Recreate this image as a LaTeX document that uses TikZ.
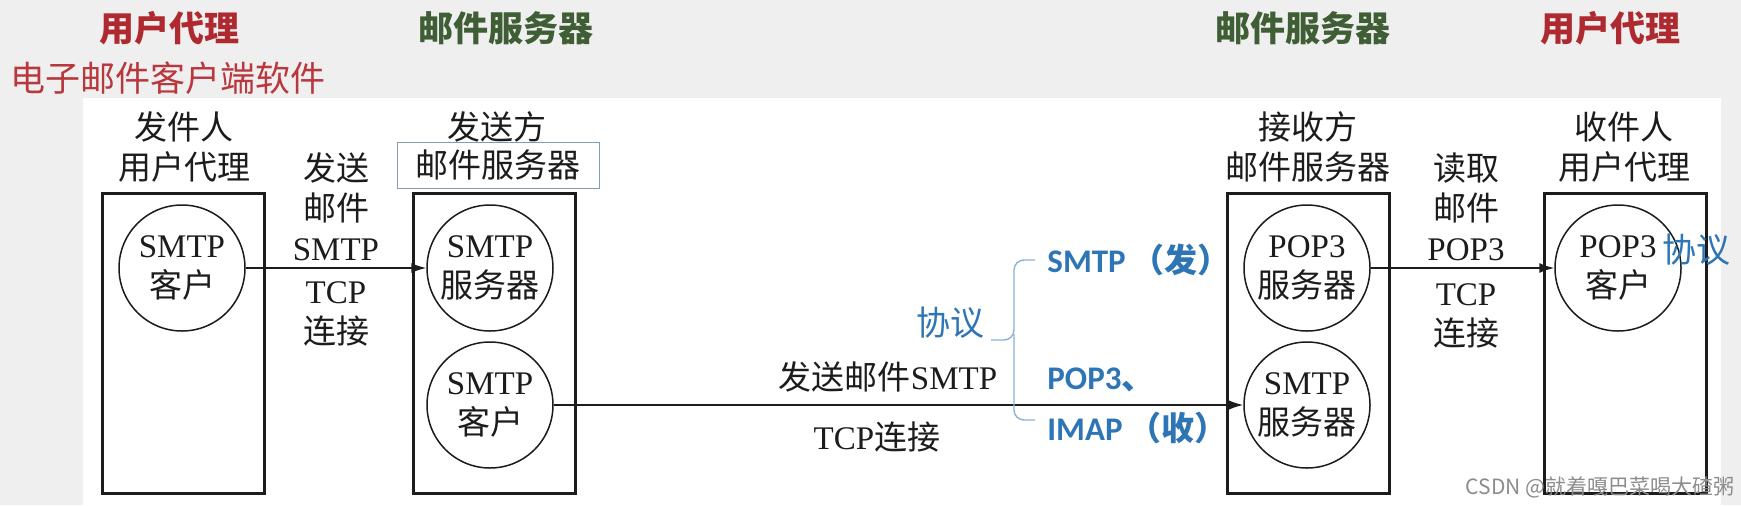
\documentclass[tikz,border=0pt]{standalone}
\usepackage{fontspec}
\setmainfont{Liberation Serif}
\newfontfamily\cjk{Noto Sans CJK SC}
\newfontfamily\carl{Carlito}
\newcommand\zhs[1]{{\cjk #1}}
\usetikzlibrary{arrows.meta}
\definecolor{ttred}{HTML}{AE2A30}
\definecolor{ttredl}{HTML}{B8383E}
\definecolor{ttgreen}{HTML}{3F5E35}
\definecolor{ttblue}{HTML}{2E75B6}
\definecolor{bracecol}{HTML}{8EB0D2}
\definecolor{ink}{HTML}{1C1C1C}
\definecolor{bggrey}{HTML}{EFEFEF}
\definecolor{smallbox}{HTML}{7F9DB9}
\definecolor{wmark}{HTML}{8C8C8C}
\begin{document}
\begin{tikzpicture}[x=0.5pt,y=-0.5pt,
  diag/.style={text=ink,font=\fontsize{16.5}{20}\selectfont,align=center,inner sep=0pt},
  agentbox/.style={draw=ink,line width=1.5pt,minimum width=81pt,minimum height=150pt,inner sep=0pt},
  proc/.style={circle,draw=ink,line width=0.75pt,minimum size=63pt,inner sep=0pt},
  flow/.style={draw=ink,line width=0.8pt,-{Latex[length=7.5pt,width=5pt]}},
  titlered/.style={text=ttred,font=\cjk\bfseries\fontsize{17.5}{21}\selectfont,inner sep=0pt},
  titlegreen/.style={text=ttgreen,font=\cjk\bfseries\fontsize{17.5}{21}\selectfont,inner sep=0pt},
  proto/.style={text=ttblue,font=\carl\bfseries\fontsize{16.5}{20}\selectfont,anchor=west,inner sep=0pt},
  protoword/.style={text=ttblue,font=\cjk\fontsize{17}{20}\selectfont,inner sep=0pt},
]
\useasboundingbox (0,0) rectangle (1741,505);
\fill[bggrey] (0,0) rectangle (1741,505);
\fill[white] (83,98) rectangle (1721,505);

% top titles
\node[titlered] (t1) at (169,28) {用户代理};
\node[text=ttredl,font=\cjk\fontsize{17.5}{21}\selectfont,inner sep=0pt] (t1b) at (168,78) {电子邮件客户端软件};
\node[titlegreen] (t2) at (506,28) {邮件服务器};
\node[titlegreen] (t3) at (1303,28) {邮件服务器};
\node[titlered] (t4) at (1610,28) {用户代理};

% boxes
\node[agentbox] (boxA) at (183,343) {};
\node[agentbox] (boxB) at (494,343) {};
\node[agentbox] (boxC) at (1308,343) {};
\node[agentbox] (boxD) at (1625,343) {};

% box headings
\node[diag] (hA) at (184,147) {\zhs{发件人}\\\zhs{用户代理}};
\node[diag] (hB1) at (497,127) {\zhs{发送方}};
\node[diag,draw=smallbox,line width=0.5pt,minimum width=101pt,minimum height=23pt] (hB2) at (498,165) {\zhs{邮件服务器}};
\node[diag] (hC) at (1308,147) {\zhs{接收方}\\\zhs{邮件服务器}};
\node[diag] (hD) at (1624,147) {\zhs{收件人}\\\zhs{用户代理}};

% circles
\node[proc] (cA) at (182,268) {};
\node[diag] (tA) at (cA) {SMTP\\\zhs{客户}};
\node[proc] (cBt) at (490,268) {};
\node[diag] (tBt) at (cBt) {SMTP\\\zhs{服务器}};
\node[proc] (cBb) at (490,405) {};
\node[diag] (tBb) at (cBb) {SMTP\\\zhs{客户}};
\node[proc] (cCt) at (1307,268) {};
\node[diag] (tCt) at (cCt) {POP3\\\zhs{服务器}};
\node[proc] (cCb) at (1307,405) {};
\node[diag] (tCb) at (cCb) {SMTP\\\zhs{服务器}};
\node[proc] (cD) at (1618,268) {};
\node[diag] (tD) at (cD) {POP3\\\zhs{客户}};

% connectors
\draw[flow] (cA.east) -- (cBt.west);
\draw[flow] (cBb.east) -- (cCb.west);
\draw[flow] (cCt.east) -- (cD.west);

% connector labels
\node[diag] (l1a) at (336,207) {\zhs{发送}\\\zhs{邮件}\\SMTP};
\node[diag] (l1b) at (336,314) {TCP\\\zhs{连接}};
\node[diag] (l2a) at (888,377) {\zhs{发送邮件}SMTP};
\node[diag] (l2b) at (877,437) {TCP\zhs{连接}};
\node[diag] (l3a) at (1466,207) {\zhs{读取}\\\zhs{邮件}\\POP3};
\node[diag] (l3b) at (1466,316) {TCP\\\zhs{连接}};

% protocol annotation
\node[protoword] (pw) at (950,323) {协议};
\draw[bracecol,line width=0.7pt,rounded corners=5pt]
  (1035,260) -- (1014,260) -- (1014,340) -- (991,340);
\draw[bracecol,line width=0.7pt,rounded corners=5pt]
  (1014,334) -- (1014,420) -- (1035,420);
\node[proto] (p1) at (1047,260) {SMTP\,\zhs{（发）}};
\node[proto] (p2) at (1047,380) {POP3\zhs{、}};
\node[proto] (p3) at (1047,428) {IMAP\,\zhs{（收）}};
\node[protoword] (pw2) at (1696,250) {协议};

% watermark
\node[text=wmark,font=\cjk\fontsize{10.5}{12}\selectfont,inner sep=0pt] (wm) at (1600,487) {CSDN @就着嘎巴菜喝大碴粥};
\end{tikzpicture}
\end{document}
